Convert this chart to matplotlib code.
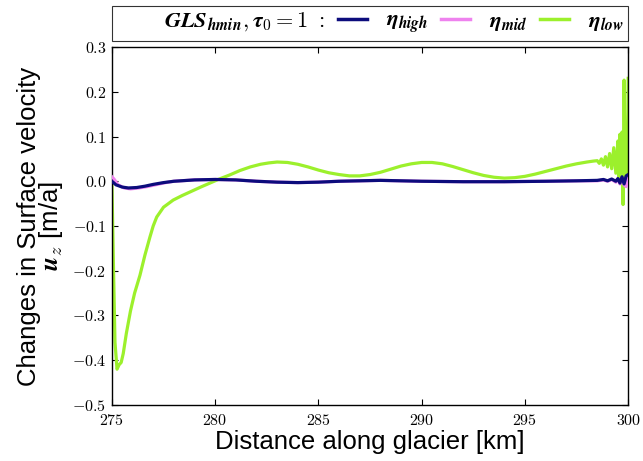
import matplotlib
matplotlib.use("Agg")
import matplotlib.pyplot as plt
from matplotlib.ticker import FuncFormatter
from matplotlib.lines import Line2D

plt.rcParams['mathtext.fontset'] = 'cm'
plt.rcParams['font.family'] = ['Liberation Sans', 'DejaVu Sans']

# ---- data ----
x_low = [275.0, 275.08, 275.15, 275.25, 275.35, 275.45, 275.55, 275.7, 275.9, 276.1,
         276.36, 276.6, 276.84, 277.0, 277.17, 277.5, 277.97, 278.4, 278.78, 279.3,
         279.75, 280.2, 280.7, 281.2, 281.7, 282.2, 282.6, 283.0, 283.5, 284.0,
         284.5, 285.0, 285.5, 286.0, 286.5, 287.0, 287.5, 288.0, 288.5, 289.0,
         289.5, 290.0, 290.5, 291.0, 291.5, 292.0, 292.5, 293.0, 293.5, 294.0,
         294.5, 295.0, 295.5, 296.0, 296.5, 297.0, 297.5, 298.0, 298.3,
         298.5, 298.6, 298.7, 298.8, 298.9, 299.0, 299.1, 299.2, 299.3, 299.4,
         299.5, 299.55, 299.6, 299.65, 299.7, 299.75, 299.8, 299.85, 299.9, 299.95, 300.0]
y_low = [0.0, -0.2, -0.36, -0.42, -0.41, -0.405, -0.385, -0.34, -0.29, -0.25,
         -0.21, -0.165, -0.125, -0.10, -0.08, -0.058, -0.042, -0.032, -0.024, -0.013,
         -0.004, 0.005, 0.014, 0.024, 0.032, 0.038, 0.041, 0.043, 0.042, 0.038,
         0.032, 0.025, 0.019, 0.015, 0.012, 0.012, 0.015, 0.02, 0.027, 0.034,
         0.039, 0.042, 0.042, 0.039, 0.033, 0.026, 0.019, 0.013, 0.009, 0.007,
         0.008, 0.011, 0.016, 0.022, 0.028, 0.034, 0.039, 0.043, 0.045,
         0.046, 0.04, 0.05, 0.036, 0.055, 0.032, 0.062, 0.028, 0.075, 0.018,
         0.09, 0.005, 0.105, 0.0, 0.11, -0.052, 0.226, 0.01, 0.12, 0.02, 0.23]

x_high = [275.0, 275.2, 275.5, 275.8, 276.2, 276.6, 277.0, 277.5, 278.0, 279.0,
          280.0, 281.0, 282.0, 283.0, 284.0, 285.0, 286.0, 287.0, 288.0, 289.0,
          290.0, 292.0, 294.0, 296.0, 297.5, 298.5, 298.8, 299.0, 299.2, 299.4,
          299.5, 299.6, 299.7, 299.8, 299.9, 300.0]
y_high = [0.0, -0.008, -0.013, -0.015, -0.014, -0.011, -0.007, -0.003, 0.0, 0.003,
          0.004, 0.003, 0.0, -0.002, -0.003, -0.002, 0.0, 0.001, 0.002, 0.001,
          0.0, -0.001, -0.001, 0.0, 0.001, 0.002, 0.004, 0.001, 0.005, 0.0,
          0.006, -0.004, 0.01, -0.006, 0.012, 0.015]

x_mid = [275.0, 275.1, 275.3, 275.6, 275.9, 276.3, 276.7, 277.1, 277.6, 278.0,
         279.0, 280.0, 281.0, 282.0, 283.0, 284.0, 285.0, 286.0, 287.0, 288.0,
         289.0, 290.0, 292.0, 294.0, 296.0, 297.5, 298.5, 298.8, 299.0, 299.2,
         299.4, 299.5, 299.6, 299.7, 299.8, 299.9, 300.0]
y_mid = [0.01, 0.005, -0.008, -0.015, -0.017, -0.015, -0.012, -0.008, -0.003, 0.0,
         0.003, 0.004, 0.003, 0.0, -0.002, -0.003, -0.002, 0.0, 0.001, 0.002,
         0.001, 0.0, -0.001, -0.001, 0.0, 0.001, 0.001, 0.003, 0.0, 0.004,
         -0.002, 0.005, -0.006, 0.008, -0.008, -0.012, 0.01]

xticks = [275, 280, 285, 290, 295, 300]
yticks = [-0.5, -0.4, -0.3, -0.2, -0.1, 0.0, 0.1, 0.2, 0.3]

c_high = '#0c0c7c'
c_mid = '#ee82ee'
c_low = '#9cf02c'

fig = plt.figure(figsize=(6.43, 4.61), dpi=100)
ax = fig.add_axes([0.174, 0.1215, 0.803, 0.7765])

ax.plot(x_low, y_low, color=c_low, lw=2.3, zorder=2)
ax.plot(x_mid, y_mid, color=c_mid, lw=2.3, zorder=3)
ax.plot(x_high, y_high, color=c_high, lw=2.3, zorder=4)

ax.set_xlim(275, 300)
ax.set_ylim(-0.5, 0.3)
ax.set_xticks(xticks)
ax.set_yticks(yticks)
ax.xaxis.set_major_formatter(FuncFormatter(lambda v, p: r'$\mathbf{%d}$' % round(v)))
ax.yaxis.set_major_formatter(FuncFormatter(lambda v, p: r'$\mathbf{%.1f}$' % v))
ax.tick_params(direction='in', top=True, right=True, length=4, labelsize=11.5)
ax.tick_params(axis='x', pad=6)
ax.tick_params(axis='y', pad=4)
for s in ax.spines.values():
    s.set_linewidth(1.0)

ax.set_xlabel('Distance along glacier [km]', fontsize=18.5, labelpad=1)
ax.set_ylabel('Changes in Surface velocity\n' + r'${\mathbfit{u}}_z$ [m/a]',
              fontsize=18.5, labelpad=5, linespacing=0.8)

handles = [Line2D([], [], color='none'),
           Line2D([], [], color=c_high, lw=2.5),
           Line2D([], [], color=c_mid, lw=2.5),
           Line2D([], [], color=c_low, lw=2.5)]
labels = [r'${\mathbfit{GLS}}_{\mathbfit{hmin}},{\mathbfit{\tau}}_\mathbf{0}=\mathbf{1}\ \mathbf{:}$',
          r'${\mathbfit{\eta}}_{\mathbfit{high}}$', r'${\mathbfit{\eta}}_{\mathbfit{mid}}$',
          r'${\mathbfit{\eta}}_{\mathbfit{low}}$']
leg = ax.legend(handles, labels, ncol=4, loc='lower left',
                bbox_to_anchor=(0.0, 1.017, 1.0, 0.092), mode='expand',
                fancybox=False, edgecolor='black', fontsize=16,
                handlelength=1.3, handletextpad=0.85, columnspacing=0.5,
                borderpad=0.2, borderaxespad=0.0)
leg.get_frame().set_linewidth(0.8)

fig.savefig('out.png', dpi=100)
